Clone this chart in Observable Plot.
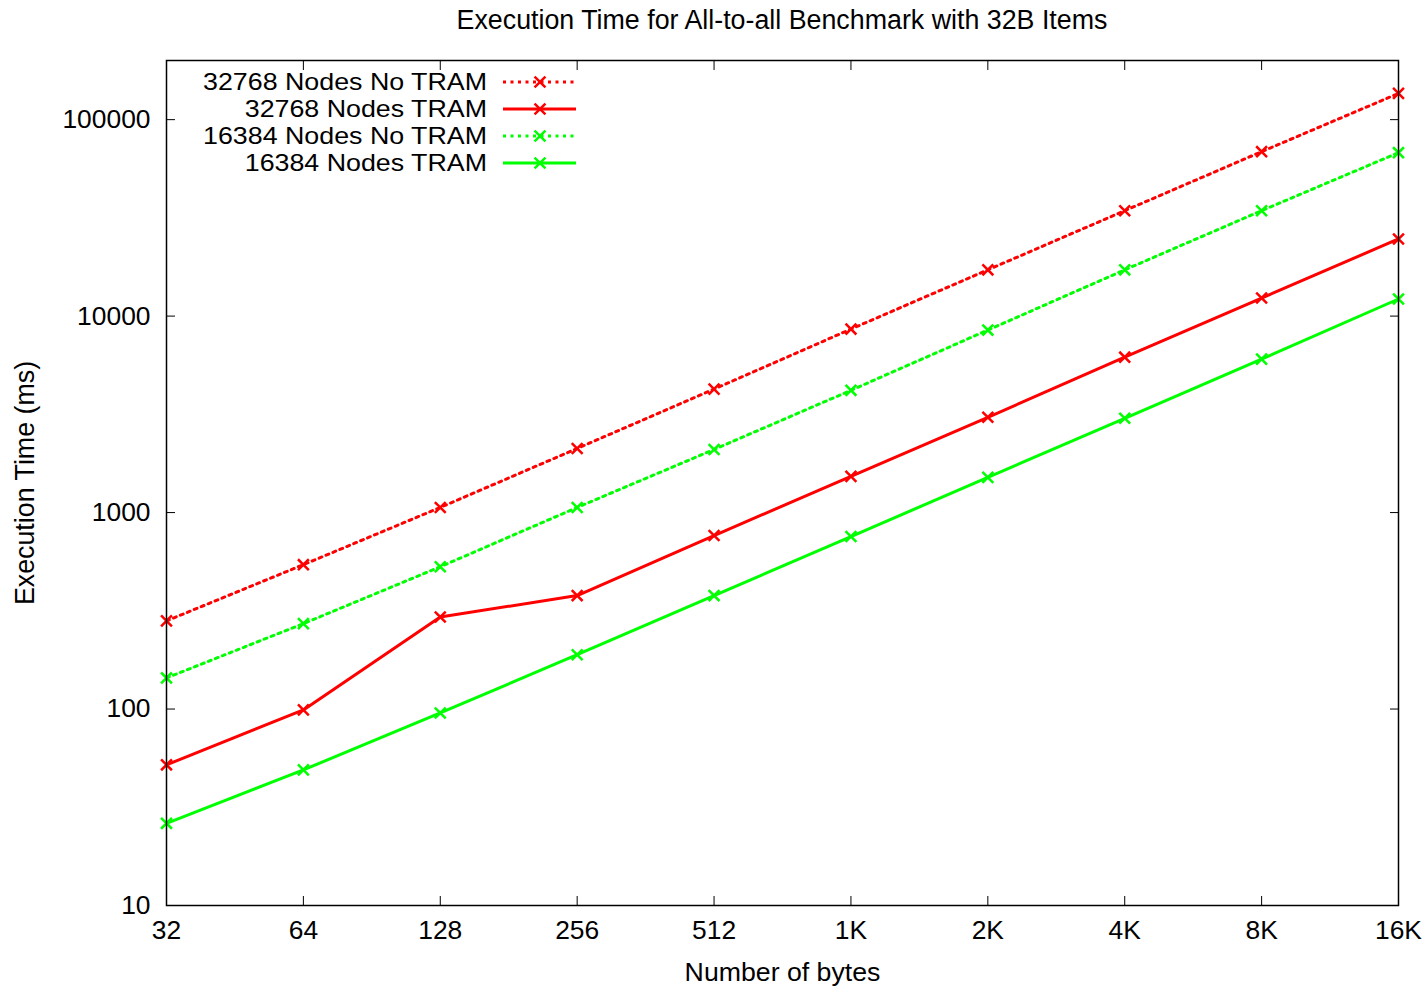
<!DOCTYPE html>
<html>
<head>
<meta charset="utf-8">
<script src="https://cdn.jsdelivr.net/npm/d3@7"></script>
<script src="https://cdn.jsdelivr.net/npm/@observablehq/plot@0.6"></script>
<style>
  html, body { margin: 0; padding: 0; background: #fff; }
  #wrap { position: relative; width: 1427px; height: 986px; font-family: "Liberation Sans", Arial, Helvetica, sans-serif; }
  #title { position: absolute; left: 166px; top: 0; width: 1232px; height: 40px; line-height: 40px; text-align: center; font-size: 26.8px; color: #000; }
  #chart { position: absolute; left: 0; top: 40px; }
  #legend { position: absolute; left: 0; top: 0; pointer-events: none; }
</style>
</head>
<body>
<div id="wrap">
  <div id="title">Execution Time for All-to-all Benchmark with 32B Items</div>
  <div id="chart"></div>
  <svg id="legend" width="1427" height="986"></svg>
</div>
<script>
const sizes = [32, 64, 128, 256, 512, 1024, 2048, 4096, 8192, 16384];
const sizeLabels = ["32", "64", "128", "256", "512", "1K", "2K", "4K", "8K", "16K"];
const yTicks = [10, 100, 1000, 10000, 100000];

const seriesNames = ["32768 Nodes No TRAM", "32768 Nodes TRAM", "16384 Nodes No TRAM", "16384 Nodes TRAM"];
const seriesColors = ["#ff0000", "#ff0000", "#00ff00", "#00ff00"];
const seriesDotted = [true, false, true, false];

const noTram32768 = [281, 543, 1062, 2120, 4250, 8590, 17200, 34400, 68700, 136000];
const tram32768   = [52, 99, 294, 378, 764, 1528, 3055, 6180, 12360, 24700];
const noTram16384 = [144, 272, 530, 1062, 2095, 4190, 8490, 17200, 34400, 67900];
const tram16384   = [26.2, 49, 95.5, 189, 378, 755, 1510, 3020, 6040, 12220];

const seriesValues = [noTram32768, tram32768, noTram16384, tram16384];

const rows = [];
seriesNames.forEach((name, s) => {
  sizes.forEach((size, i) => rows.push({series: name, s, size, value: seriesValues[s][i]}));
});

const dash = "3,4.5";
const marks = [];
seriesNames.forEach((name, s) => {
  const d = rows.filter(r => r.s === s);
  marks.push(Plot.line(d, {x: "size", y: "value", stroke: seriesColors[s], strokeWidth: 3,
    strokeDasharray: seriesDotted[s] ? dash : null}));
  marks.push(Plot.dot(d, {x: "size", y: "value", symbol: "times", r: 5, stroke: seriesColors[s], strokeWidth: 2.5}));
});

const fmtX = d => sizeLabels[sizes.indexOf(d)];

const chart = Plot.plot({
  width: 1427,
  height: 946,
  marginTop: 20,
  marginBottom: 81,
  marginLeft: 166,
  marginRight: 29,
  x: {type: "log", base: 2, domain: [32, 16384]},
  y: {type: "log", domain: [10, 200000]},
  style: {fontFamily: '"Liberation Sans", Arial, Helvetica, sans-serif', fontSize: "26.4px", color: "#000", background: "#fff"},
  marks: [
    ...marks,
    Plot.axisX(sizes, {anchor: "bottom", tickSize: -9, tickPadding: 24, tickFormat: fmtX, label: null, stroke: "#000"}),
    Plot.axisX(sizes, {anchor: "top", tickSize: -9, tickFormat: () => "", label: null, stroke: "#000"}),
    Plot.axisY(yTicks, {anchor: "left", tickSize: -9, tickPadding: 25, tickFormat: d => String(d), label: null, stroke: "#000"}),
    Plot.axisY(yTicks, {anchor: "right", tickSize: -9, tickFormat: () => "", label: null, stroke: "#000"}),
    Plot.frame({stroke: "#000", strokeWidth: 1.5}),
    Plot.text(["Number of bytes"], {frameAnchor: "bottom", dy: 67, lineAnchor: "middle", textAnchor: "middle", text: d => d, fontSize: 26.7}),
    Plot.text(["Execution Time (ms)"], {frameAnchor: "left", dx: -141, rotate: -90, textAnchor: "middle", lineAnchor: "middle", text: d => d, fontSize: 26.8})
  ]
});
document.getElementById("chart").appendChild(chart);

// Legend (inside the plot frame, top-left)
const leg = d3.select("#legend");
const symbolPath = d3.symbol(d3.symbolTimes, 5 * 5 * Math.PI)();
const legFont = 23.4;
seriesNames.forEach((name, s) => {
  const y = 82 + s * 27;
  const t = leg.append("text").attr("x", 487).attr("y", y).attr("text-anchor", "end")
    .attr("dominant-baseline", "central")
    .attr("font-family", '"Liberation Sans", Arial, Helvetica, sans-serif')
    .attr("font-size", legFont).attr("fill", "#000").text(name);
  const w = t.node().getComputedTextLength();
  t.attr("textLength", w * 26.8 / legFont).attr("lengthAdjust", "spacingAndGlyphs");
  leg.append("line").attr("x1", 503).attr("x2", 576).attr("y1", y).attr("y2", y)
    .attr("stroke", seriesColors[s]).attr("stroke-width", 3)
    .attr("stroke-dasharray", seriesDotted[s] ? dash : null);
  leg.append("path").attr("d", symbolPath).attr("transform", `translate(540,${y})`)
    .attr("fill", "none").attr("stroke", seriesColors[s]).attr("stroke-width", 2.5);
});
</script>
</body>
</html>
